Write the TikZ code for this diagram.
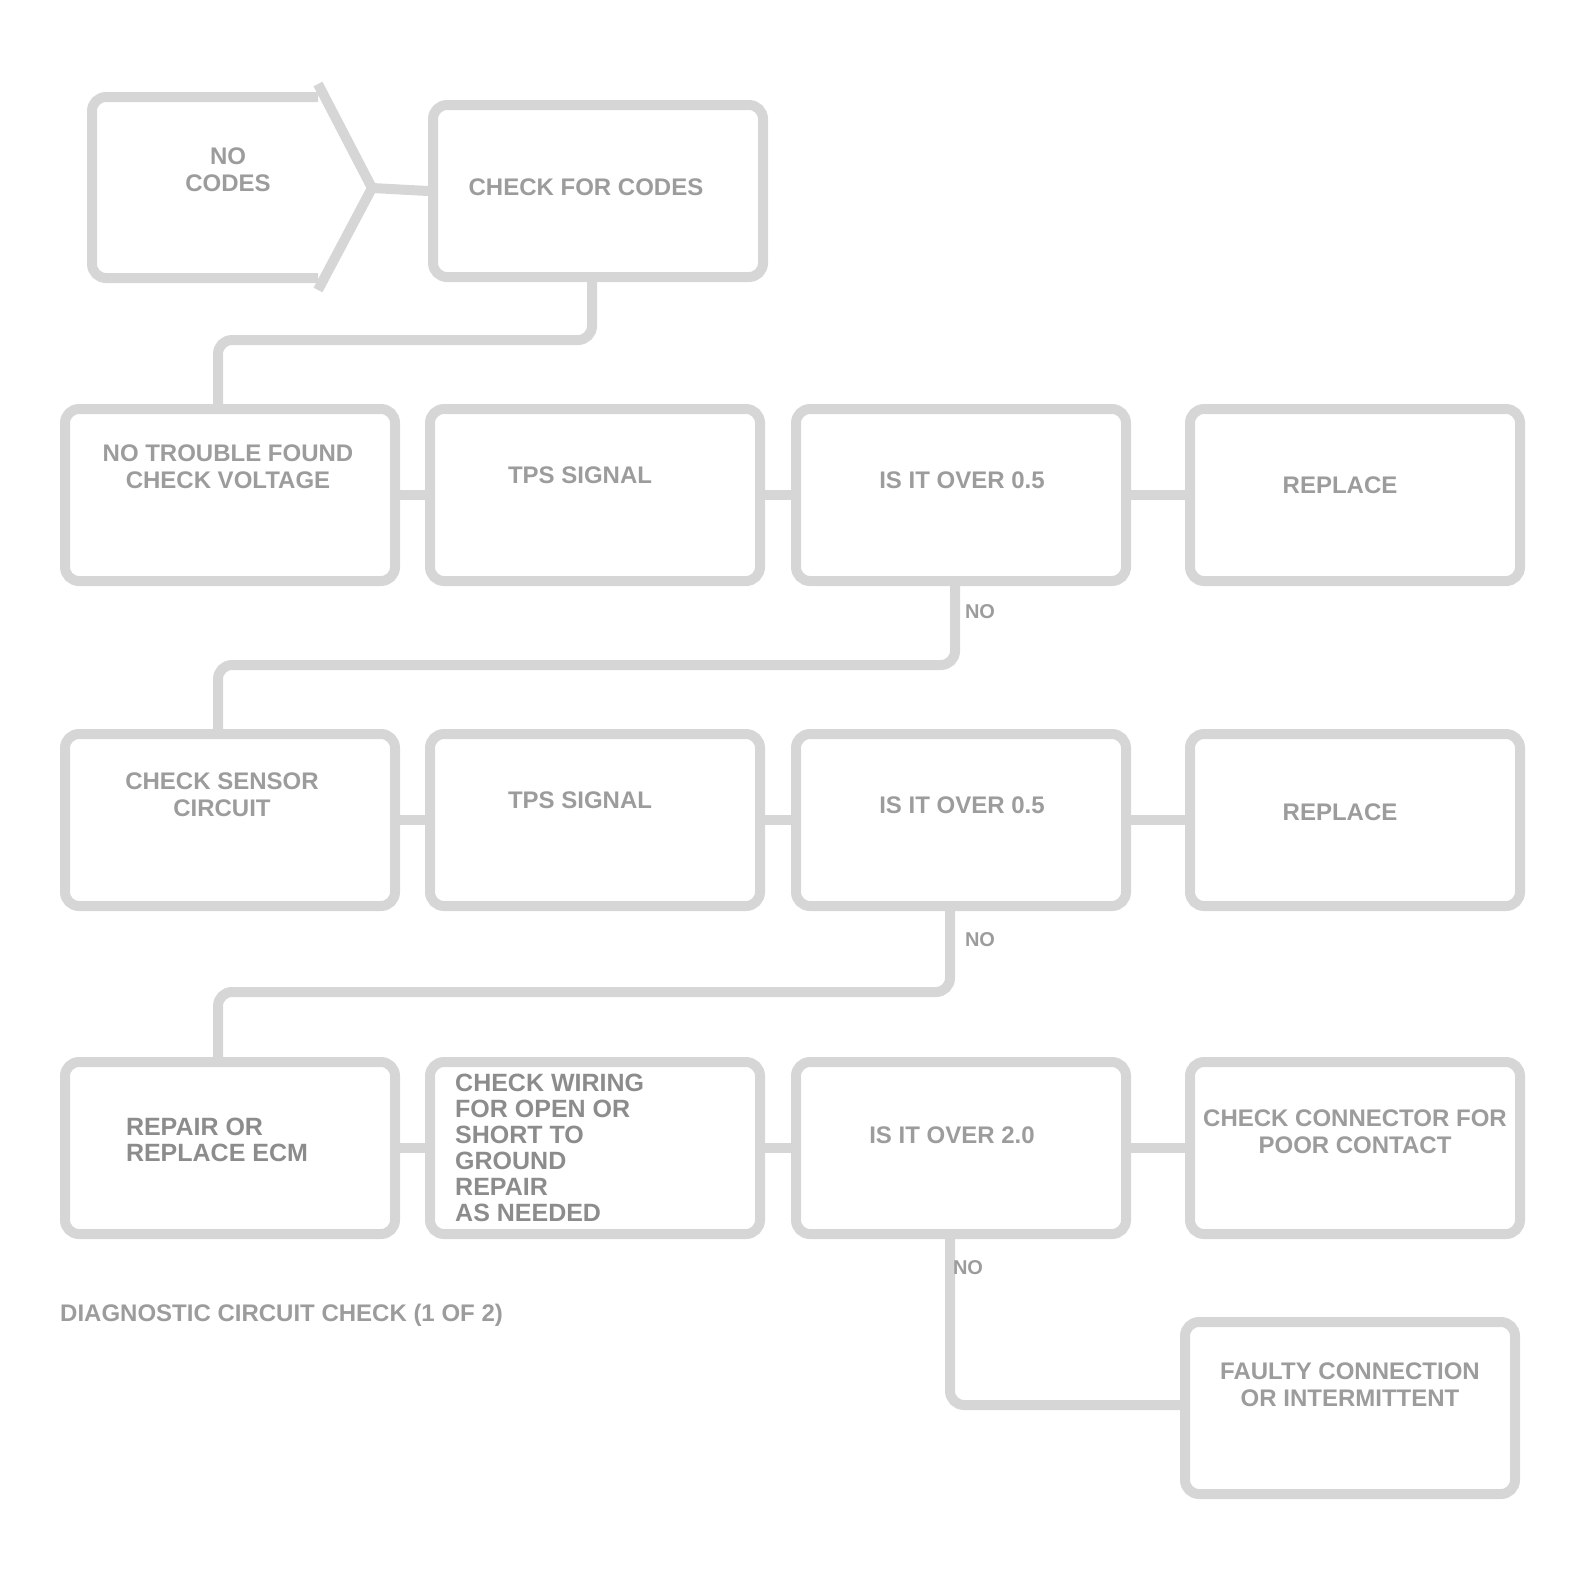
\documentclass[tikz,border=0pt]{standalone}
\usepackage{fontspec}
\setmainfont{Liberation Sans}
\usetikzlibrary{arrows.meta}
\definecolor{linegray}{HTML}{D6D6D6}
\definecolor{textgray}{HTML}{9C9C9C}
\definecolor{darkgray}{HTML}{8C8C8C}
\begin{document}
\begin{tikzpicture}[x=1pt,y=-1pt,
  boxst/.style={draw=linegray,line width=10pt,rounded corners=14pt,minimum width=330pt,minimum height=172pt,inner sep=0pt},
  txt/.style={text=textgray,font=\fontsize{24}{27}\selectfont\bfseries,align=center,inner sep=0pt},
  bigtxt/.style={text=darkgray,font=\fontsize{25}{26}\selectfont\bfseries,align=left,inner sep=0pt},
  conn/.style={draw=linegray,line width=10pt,rounded corners=14pt},
  lab/.style={text=textgray,font=\fontsize{20}{22}\selectfont\bfseries,inner sep=0pt}]
\useasboundingbox (0,0) rectangle (1587,1595);
% row 1
\coordinate (ptip) at (372,188);
\coordinate (ptop) at (318,84);
\coordinate (pbot) at (318,290);
\draw[conn] (318,97) -- (92,97) -- (92,278) -- (318,278);
\draw[draw=linegray,line width=10pt,line join=round] (ptop) -- (ptip) -- (pbot);
\node[txt] (ptext) at (228,170) {NO\\CODES};
\node[boxst] (b2) at (598,191) {};
\node[txt,anchor=center] (b2t) at (586,187) {CHECK FOR CODES};
\draw[conn] (ptip) -- (b2.west);
% rows
\foreach \n/\x in {a/230,b/595,c/961,d/1355}{
  \node[boxst] (r2\n) at (\x,495) {};
  \node[boxst] (r3\n) at (\x,820) {};
  \node[boxst] (r4\n) at (\x,1148) {};
}
\node[boxst] (r5d) at (1350,1408) {};
% texts
\node[txt] (t2a) at (228,467) {NO TROUBLE FOUND\\CHECK VOLTAGE};
\node[txt] (t2b) at (580,475) {TPS SIGNAL};
\node[txt] (t2c) at (962,480) {IS IT OVER 0.5};
\node[txt] (t2d) at (1340,485) {REPLACE};
\node[txt] (t3a) at (222,795) {CHECK SENSOR\\CIRCUIT};
\node[txt] (t3b) at (580,800) {TPS SIGNAL};
\node[txt] (t3c) at (962,805) {IS IT OVER 0.5};
\node[txt] (t3d) at (1340,812) {REPLACE};
\node[bigtxt] (t4a) at (217,1140) {REPAIR OR\\REPLACE ECM};
\node[bigtxt,anchor=north west] (t4b) at (455,1074) {CHECK WIRING\\FOR OPEN OR\\SHORT TO\\GROUND\\REPAIR\\AS NEEDED};
\node[txt] (t4c) at (952,1135) {IS IT OVER 2.0};
\node[txt] (t4d) at (1355,1132) {CHECK CONNECTOR FOR\\POOR CONTACT};
\node[txt] (t5d) at (1350,1385) {FAULTY CONNECTION\\OR INTERMITTENT};
% caption
\node[txt,anchor=west] (cap) at (60,1315) {DIAGNOSTIC CIRCUIT CHECK (1 OF 2)};
% row connectors
\foreach \r in {2,3,4}{
  \draw[conn] (r\r a.east) -- (r\r b.west);
  \draw[conn] (r\r b.east) -- (r\r c.west);
  \draw[conn] (r\r c.east) -- (r\r d.west);
}
% between rows
\coordinate (k1) at (592,340);
\draw[conn] (b2.south -| k1) -- (k1) -- (218,340) -- (r2a.north -| 218,0);
\coordinate (k2) at (955,665);
\draw[conn] (r2c.south -| k2) -- (k2) -- (218,665) -- (r3a.north -| 218,0);
\coordinate (k3) at (950,992);
\draw[conn] (r3c.south -| k3) -- (k3) -- (218,992) -- (r4a.north -| 218,0);
\coordinate (k4) at (950,1405);
\draw[conn] (r4c.south -| k4) -- (k4) -- (k4 -| r5d.west);
\node[lab] (l1) at (980,612) {NO};
\node[lab] (l2) at (980,940) {NO};
\node[lab] (l3) at (968,1268) {NO};
\end{tikzpicture}
\end{document}
